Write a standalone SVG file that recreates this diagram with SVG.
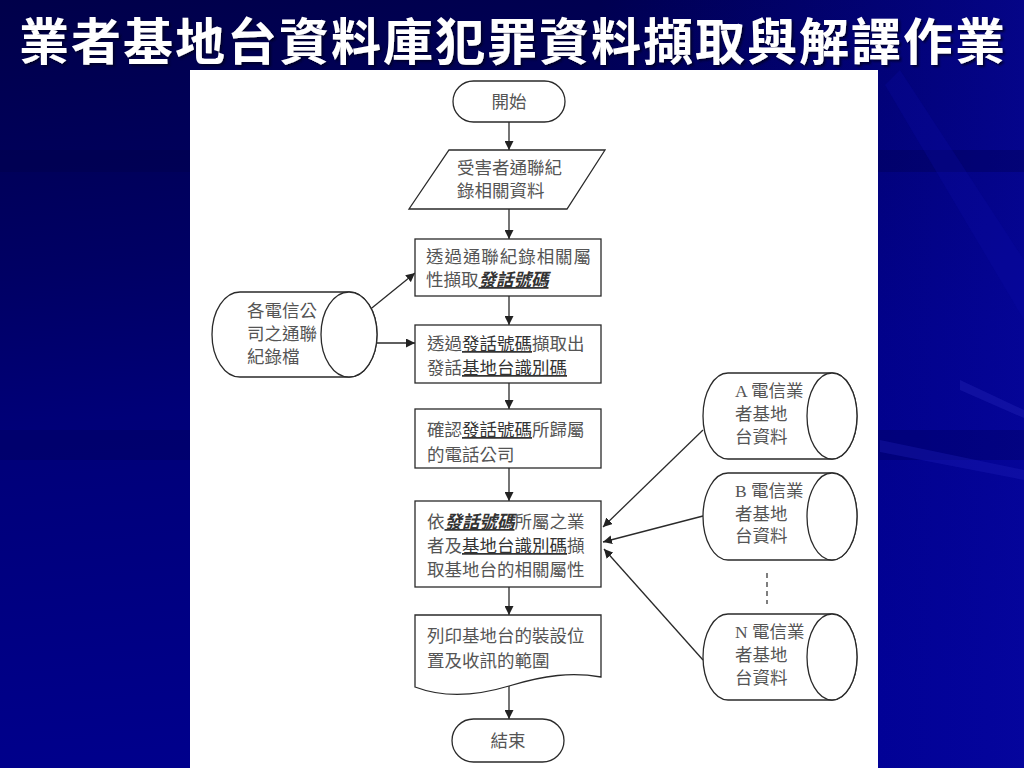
<svg xmlns="http://www.w3.org/2000/svg" width="1024" height="768" viewBox="0 0 1024 768">
<defs>
  <linearGradient id="bg" x1="0" y1="0" x2="0.15" y2="1">
    <stop offset="0" stop-color="#00004a"/>
    <stop offset="0.35" stop-color="#000064"/>
    <stop offset="0.55" stop-color="#000078"/>
    <stop offset="1" stop-color="#00008c"/>
  </linearGradient>
  <linearGradient id="rightglow" x1="0" y1="0" x2="1" y2="0">
    <stop offset="0" stop-color="#0000a0" stop-opacity="0"/>
    <stop offset="1" stop-color="#0808a8" stop-opacity="0.6"/>
  </linearGradient>
  <filter id="shadow" x="-5%" y="-20%" width="110%" height="150%">
    <feDropShadow dx="2" dy="2" stdDeviation="1" flood-color="#000020" flood-opacity="0.8"/>
  </filter>
  <marker id="arr" viewBox="0 0 10 10" refX="10" refY="5" markerWidth="9" markerHeight="9" markerUnits="userSpaceOnUse" orient="auto">
    <path d="M0,0 L10,5 L0,10 Z" fill="#222"/>
  </marker>
  <style>
    .shape { fill: #ffffff; stroke: #2a2a2a; stroke-width: 1.3; }
    .conn { fill: none; stroke: #2a2a2a; stroke-width: 1.3; marker-end: url(#arr); }
    .dash { fill: none; stroke: #2a2a2a; stroke-width: 1.2; stroke-dasharray: 5 4; }
    .t { font-family: "Liberation Serif", "Noto Sans CJK TC", serif; font-size: 17.5px; fill: #555555; }
    .u { text-decoration: underline; fill: #333333; }
    .ub { text-decoration: underline; font-style: italic; font-weight: bold; fill: #333333; }
    .title { font-family: "Noto Sans CJK TC", "Noto Sans CJK SC", serif; font-size: 50px; font-weight: bold; fill: #ffffff; letter-spacing: 2px; }
  </style>
</defs>

<!-- background -->
<rect x="0" y="0" width="1024" height="768" fill="url(#bg)"/>
<rect x="600" y="0" width="424" height="768" fill="url(#rightglow)"/>
<rect x="0" y="150" width="1024" height="22" fill="#000045" opacity="0.3"/>
<rect x="0" y="430" width="1024" height="30" fill="#00005a" opacity="0.35"/>
<polygon points="900,70 1024,260 1024,320 885,85" fill="#0a0aa8" opacity="0.25"/>
<polygon points="880,440 1024,470 1024,480 880,452" fill="#2020b8" opacity="0.35"/>
<polygon points="960,380 1024,410 1024,418 960,390" fill="#3030c0" opacity="0.3"/>

<!-- title -->
<text class="title" x="513" y="60" text-anchor="middle" filter="url(#shadow)">業者基地台資料庫犯罪資料擷取與解譯作業</text>

<!-- white panel -->
<rect x="190" y="70" width="688" height="698" fill="#ffffff"/>

<!-- connectors -->
<g id="connectors">
  <line class="conn" x1="509" y1="122" x2="509" y2="150"/>
  <line class="conn" x1="509" y1="209" x2="509" y2="239"/>
  <line class="conn" x1="509" y1="296" x2="509" y2="325"/>
  <line class="conn" x1="509" y1="383" x2="509" y2="409"/>
  <line class="conn" x1="509" y1="468" x2="509" y2="501"/>
  <line class="conn" x1="509" y1="587" x2="509" y2="615"/>
  <line class="conn" x1="509" y1="686" x2="509" y2="719"/>
  <line class="conn" x1="341" y1="333" x2="415" y2="273"/>
  <line class="conn" x1="341" y1="343" x2="415" y2="343"/>
  <line class="conn" x1="703" y1="430" x2="603" y2="527"/>
  <line class="conn" x1="703" y1="516" x2="603" y2="542"/>
  <line class="conn" x1="703" y1="660" x2="604" y2="549"/>
  <line class="dash" x1="767" y1="573" x2="767" y2="604"/>
</g>

<!-- start -->
<g id="start">
  <rect class="shape" x="453" y="81" width="112" height="41" rx="20.5"/>
  <text class="t" x="509" y="108" text-anchor="middle">開始</text>
</g>

<!-- input -->
<g id="input">
  <polygon class="shape" points="449,150 605,150 567,209 409,209"/>
  <text class="t" x="457" y="174" font-size="17">受害者通聯紀</text>
  <text class="t" x="457" y="197" font-size="17">錄相關資料</text>
</g>

<!-- step 1 -->
<g id="step1">
  <rect class="shape" x="415" y="239" width="186" height="57"/>
  <text class="t" x="426" y="263" textLength="165" lengthAdjust="spacing">透過通聯紀錄相關屬</text>
  <text class="t" x="426" y="286">性擷取<tspan class="ub">發話號碼</tspan></text>
</g>

<!-- step 2 -->
<g id="step2">
  <rect class="shape" x="415" y="325" width="186" height="58"/>
  <text class="t" x="427" y="350">透過<tspan class="u">發話號碼</tspan>擷取出</text>
  <text class="t" x="427" y="374">發話<tspan class="u">基地台識別碼</tspan></text>
</g>

<!-- step 3 -->
<g id="step3">
  <rect class="shape" x="415" y="409" width="186" height="59"/>
  <text class="t" x="427" y="436">確認<tspan class="u">發話號碼</tspan>所歸屬</text>
  <text class="t" x="427" y="461">的電話公司</text>
</g>

<!-- step 4 -->
<g id="step4">
  <rect class="shape" x="415" y="501" width="186" height="86"/>
  <text class="t" x="427" y="528">依<tspan class="ub">發話號碼</tspan>所屬之業</text>
  <text class="t" x="427" y="552">者及<tspan class="u">基地台識別碼</tspan>擷</text>
  <text class="t" x="427" y="576">取基地台的相關屬性</text>
</g>

<!-- document -->
<g id="print">
  <path class="shape" d="M415,615 H601 V677 C572,672 545,675 509,686 C476,696 444,698 415,687 Z"/>
  <text class="t" x="427" y="642">列印基地台的裝設位</text>
  <text class="t" x="427" y="667">置及收訊的範圍</text>
</g>

<!-- end -->
<g id="end">
  <rect class="shape" x="452" y="719" width="112" height="43" rx="21.5"/>
  <text class="t" x="508" y="747" text-anchor="middle">結束</text>
</g>

<!-- left cylinder -->
<g id="calllogs">
  <path class="shape" d="M240,292 H349 A28,42.5 0 0 1 349,377 H240 A28,42.5 0 0 1 240,292 Z"/>
  <ellipse class="shape" cx="349" cy="334.5" rx="28" ry="42.5"/>
  <text class="t" x="247" y="317">各電信公</text>
  <text class="t" x="247" y="340">司之通聯</text>
  <text class="t" x="247" y="363">紀錄檔</text>
</g>

<!-- A cylinder -->
<g id="dbA">
  <path class="shape" d="M728,373 H832 A25,43 0 0 1 832,459 H728 A25,43 0 0 1 728,373 Z"/>
  <ellipse class="shape" cx="832" cy="416" rx="25" ry="43"/>
  <text class="t" x="735" y="397">A 電信業</text>
  <text class="t" x="735" y="420">者基地</text>
  <text class="t" x="735" y="443">台資料</text>
</g>

<!-- B cylinder -->
<g id="dbB">
  <path class="shape" d="M728,473 H832 A25,43.5 0 0 1 832,560 H728 A25,43.5 0 0 1 728,473 Z"/>
  <ellipse class="shape" cx="832" cy="516.5" rx="25" ry="43.5"/>
  <text class="t" x="735" y="497">B 電信業</text>
  <text class="t" x="735" y="520">者基地</text>
  <text class="t" x="735" y="542">台資料</text>
</g>

<!-- N cylinder -->
<g id="dbN">
  <path class="shape" d="M728,614 H832 A25,43 0 0 1 832,700 H728 A25,43 0 0 1 728,614 Z"/>
  <ellipse class="shape" cx="832" cy="657" rx="25" ry="43"/>
  <text class="t" x="735" y="638">N 電信業</text>
  <text class="t" x="735" y="661">者基地</text>
  <text class="t" x="735" y="684">台資料</text>
</g>
</svg>
